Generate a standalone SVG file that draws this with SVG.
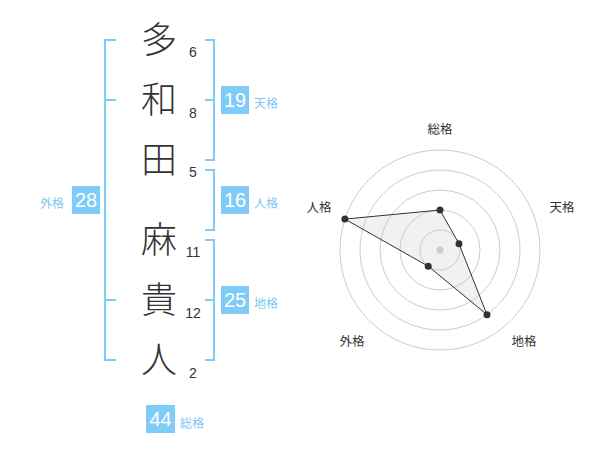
<svg xmlns="http://www.w3.org/2000/svg" width="600" height="470" viewBox="0 0 600 470">
<style>
.ch{font-family:"Noto Sans CJK JP","Noto Sans CJK SC",sans-serif;font-size:36px;font-weight:300;fill:#333;text-anchor:middle}
.num{font-family:"Liberation Sans",Arial,sans-serif;font-size:14px;fill:#333;text-anchor:middle}
.br{fill:none;stroke:#80CCF9;stroke-width:2}
.box{fill:#80CCF9}
.bt{font-family:"Liberation Sans",Arial,sans-serif;font-size:20px;fill:#fff;text-anchor:middle}
.lb{font-family:"Noto Sans CJK JP","Noto Sans CJK SC",sans-serif;font-size:12px;fill:#80C8F2}
.rl{font-family:"Noto Sans CJK JP","Noto Sans CJK SC",sans-serif;font-size:12.5px;fill:#333;text-anchor:middle}
.ring{fill:none;stroke:#ccc;stroke-width:1}
.pt{fill:#333}
</style>
<rect width="600" height="470" fill="#fff"/>
<g id="chars">
<text class="ch" x="159" y="53">多</text><text class="num" x="193" y="57">6</text>
<text class="ch" x="159" y="113">和</text><text class="num" x="193" y="118">8</text>
<text class="ch" x="159" y="173">田</text><text class="num" x="193" y="177">5</text>
<text class="ch" x="159" y="253">麻</text><text class="num" x="193" y="257">11</text>
<text class="ch" x="159" y="313">貴</text><text class="num" x="193" y="318">12</text>
<text class="ch" x="159" y="373">人</text><text class="num" x="193" y="378">2</text>
</g>
<g id="connectors">
<path class="br" d="M116,40H105V360H116M105,100H116M105,300H116"/>
<path class="br" d="M205,40H214V160H205M214,100H205"/>
<path class="br" d="M205,170H214V230H205"/>
<path class="br" d="M205,240H214V360H205M214,300H205"/>
</g>
<g id="gaikaku"><rect class="box" x="72" y="186" width="28" height="28"/><text class="bt" x="86" y="207">28</text><text class="lb" x="40" y="208">外格</text></g>
<g id="tenkaku"><rect class="box" x="221" y="86" width="28" height="28"/><text class="bt" x="235" y="107">19</text><text class="lb" x="254" y="108">天格</text></g>
<g id="jinkaku"><rect class="box" x="221" y="186" width="28" height="28"/><text class="bt" x="235" y="207">16</text><text class="lb" x="254" y="208">人格</text></g>
<g id="chikaku"><rect class="box" x="221" y="286" width="28" height="28"/><text class="bt" x="235" y="307">25</text><text class="lb" x="254" y="308">地格</text></g>
<g id="soukaku"><rect class="box" x="146" y="405" width="29" height="28"/><text class="bt" x="160.5" y="426">44</text><text class="lb" x="180" y="428">総格</text></g>
<g id="radar">
<circle class="ring" cx="440" cy="250" r="20"/>
<circle class="ring" cx="440" cy="250" r="40"/>
<circle class="ring" cx="440" cy="250" r="60"/>
<circle class="ring" cx="440" cy="250" r="80"/>
<circle class="ring" cx="440" cy="250" r="100"/>
<circle cx="440" cy="250" r="3.5" fill="#ccc"/>
<polygon points="440,210 459,243.8 487,314.7 428.2,266.2 344.9,219.1" fill="rgba(200,200,200,0.25)" stroke="#333" stroke-width="1"/>
<circle class="pt" cx="440" cy="210" r="3.5"/>
<circle class="pt" cx="459" cy="243.8" r="3.5"/>
<circle class="pt" cx="487" cy="314.7" r="3.5"/>
<circle class="pt" cx="428.2" cy="266.2" r="3.5"/>
<circle class="pt" cx="344.9" cy="219.1" r="3.5"/>
<text class="rl" x="440" y="134">総格</text>
<text class="rl" x="562" y="212">天格</text>
<text class="rl" x="524" y="346">地格</text>
<text class="rl" x="352" y="346">外格</text>
<text class="rl" x="319" y="212">人格</text>
</g>
</svg>
